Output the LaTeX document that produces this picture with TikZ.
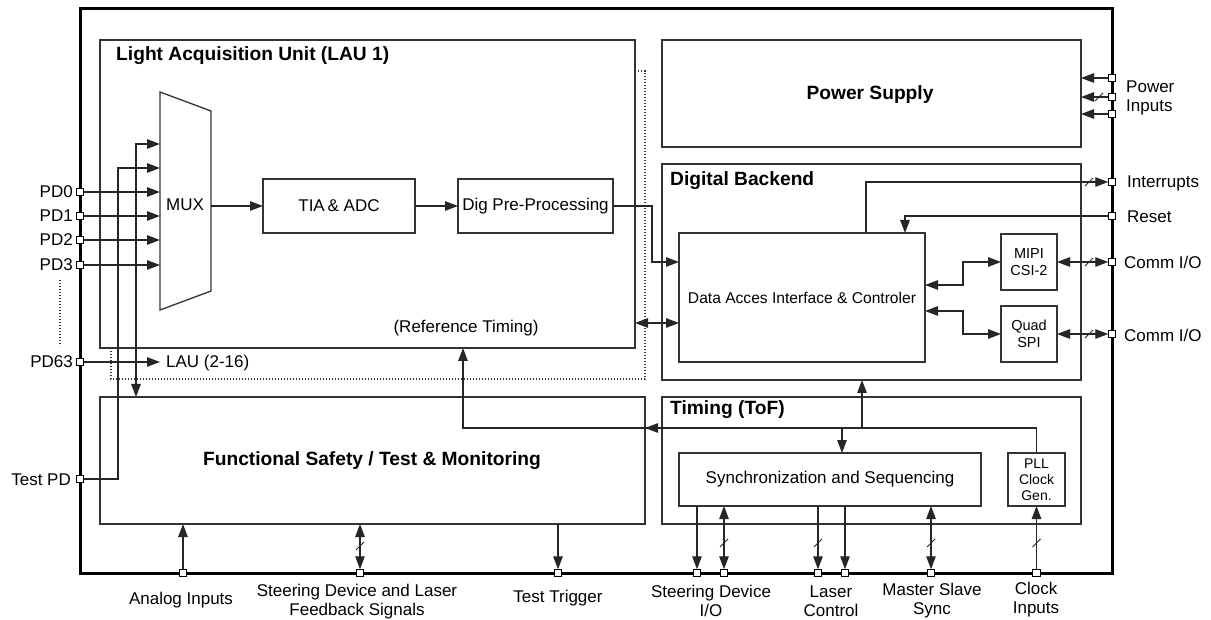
\documentclass[tikz,border=0pt]{standalone}
\usepackage{fontspec}
\setmainfont{Liberation Sans}
\usetikzlibrary{arrows.meta,calc}
\newcommand{\mkslash}[1]{\draw[conn,line width=0.8pt] ($(#1)+(-4,4)$) -- ($(#1)+(4,-4)$);}
\begin{document}
\begin{tikzpicture}[x=1pt,y=-1pt,
  box/.style={draw=black!80, line width=1.8pt, inner sep=0pt, outer sep=0pt, rectangle},
  ibox/.style={draw=black!80, line width=1.3pt, inner sep=0pt, outer sep=0pt, rectangle, align=center, font=\lab},
  conn/.style={line width=1.2pt, draw=black!85},
  arr/.style={conn, -{Triangle[length=13pt,width=9.5pt]}},
  darr/.style={conn, {Triangle[length=13pt,width=9.5pt]}-{Triangle[length=13pt,width=9.5pt]}},
  port/.style={draw=black, fill=white, line width=1pt, minimum size=7.5pt, inner sep=0pt, outer sep=0pt, rectangle},
  lbl/.style={inner sep=0pt, font=\lab, align=center},
  ttl/.style={inner sep=0pt, font=\ttlf},
  dots/.style={draw=black!80, line width=1.1pt, dash pattern=on 1.3pt off 1.7pt}
]
\newcommand{\lab}{\fontsize{17}{19}\selectfont}
\newcommand{\ttlf}{\fontsize{19.2}{22}\selectfont\bfseries}
\useasboundingbox (0,0) rectangle (1211,620);
\fill[white] (0,0) rectangle (1211,620);

% outer border
\node[draw=black, line width=3pt, minimum width=1032pt, minimum height=564pt, inner sep=0pt, outer sep=0pt] (outer) at (596,291) {};

% main blocks
\node[box, minimum width=535pt, minimum height=308pt] (lau) at (367.5,194) {};
\node[box, minimum width=545pt, minimum height=127pt] (fs) at (372.5,460.5) {};
\node[box, minimum width=419pt, minimum height=107pt] (ps) at (871.5,93.5) {};
\node[box, minimum width=419pt, minimum height=216pt] (db) at (871.5,272) {};
\node[box, minimum width=419pt, minimum height=127pt] (tof) at (871.5,460.5) {};

% dotted LAU stack
\draw[dots] (638,71) -- (645,71) -- (645,379) -- (111,379) -- (111,349);

% titles
\node[ttl, anchor=west] (laut) at (116,56) {Light Acquisition Unit (LAU 1)};
\node[ttl] (fst) at (372,461) {Functional Safety / Test \& Monitoring};
\node[ttl] (pst) at (870,95) {Power Supply};
\node[ttl, anchor=west] (dbt) at (670,181) {Digital Backend};
\node[ttl, anchor=west] (toft) at (670,410) {Timing (ToF)};

% inner boxes
\node[ibox, minimum width=152pt, minimum height=54pt] (tia) at (339,206) {TIA\,\& ADC};
\node[ibox, minimum width=155pt, minimum height=54pt] (dpp) at (535.5,206) {Dig Pre-Processing};
\node[ibox, minimum width=246pt, minimum height=129pt, font=\fontsize{15.6}{18}\selectfont] (daic) at (802,297.5) {Data Acces Interface \& Controler};
\node[ibox, minimum width=56pt, minimum height=56pt, font=\fontsize{14.5}{17}\selectfont] (mipi) at (1029,262) {MIPI\\CSI-2};
\node[ibox, minimum width=56pt, minimum height=56pt, font=\fontsize{14.5}{17}\selectfont] (qspi) at (1029,334) {Quad\\SPI};
\node[ibox, minimum width=302pt, minimum height=53pt] (sync) at (830,479.5) {Synchronization and Sequencing};
\node[ibox, minimum width=57pt, minimum height=53pt, font=\fontsize{14}{16}\selectfont] (pll) at (1036.5,479.5) {PLL\\Clock\\Gen.};

% MUX
\draw[draw=black!80, line width=1.3pt] (160,92) -- (211,111) -- (211,291) -- (160,310) -- cycle;
\node[lbl] (mux) at (185,205) {MUX};
\coordinate (muxl) at (160,200);
\coordinate (muxout) at (211,206);

% ports on the left
\node[port] (p0) at (80,192) {};
\node[port] (p1) at (80,216) {};
\node[port] (p2) at (80,240) {};
\node[port] (p3) at (80,265) {};
\node[port] (p63) at (80,362) {};
\node[port] (ptest) at (80,479) {};
\node[lbl, anchor=east] (l0) at (73,192) {PD0};
\node[lbl, anchor=east] (l1) at (73,216) {PD1};
\node[lbl, anchor=east] (l2) at (73,240) {PD2};
\node[lbl, anchor=east] (l3) at (73,265) {PD3};
\node[lbl, anchor=east] (l63) at (73,362) {PD63};
\node[lbl, anchor=east] (ltest) at (71,480) {Test PD};
\draw[dots] (60,280) -- (60,346);

\draw[arr] (p0.east) -- (muxl |- p0);
\draw[arr] (p1.east) -- (muxl |- p1);
\draw[arr] (p2.east) -- (muxl |- p2);
\draw[arr] (p3.east) -- (muxl |- p3);
\draw[arr] (p63.east) -- (muxl |- p63);
\node[lbl, anchor=west] (llau) at (166,363) {LAU (2-16)};
\draw[darr] (fs.north -| 136,0) -- (136,144) -- (muxl |- 0,144);
\draw[arr] (ptest.east) -- (118,479) -- (118,168) -- (muxl |- 0,168);

% LAU chain
\draw[arr] (muxout) -- (tia.west);
\draw[arr] (tia.east) -- (dpp.west);
\draw[arr] (dpp.east) -- (652,206) -- (652,262) -- (daic.west |- 0,262);
\draw[darr] (lau.east |- 0,323) -- (daic.west |- 0,323);
\node[lbl] (reft) at (466,328) {(Reference Timing)};

% right ports
\node[port] (pw1) at (1112,78) {};
\node[port] (pw2) at (1112,97) {};
\node[port] (pw3) at (1112,114) {};
\node[port] (pint) at (1112,182) {};
\node[port] (prst) at (1112,216) {};
\node[port] (pc1) at (1112,262) {};
\node[port] (pc2) at (1112,334) {};
\node[lbl, anchor=west, align=left] (lpw) at (1126,98) {Power\\Inputs};
\node[lbl, anchor=west] (lint) at (1127,183) {Interrupts};
\node[lbl, anchor=west] (lrst) at (1127,217) {Reset};
\node[lbl, anchor=west] (lc1) at (1124,262) {Comm I/O};
\node[lbl, anchor=west] (lc2) at (1124,335) {Comm I/O};

\draw[arr] (pw1.west) -- (ps.east |- pw1);
\draw[arr] (pw2.west) -- (ps.east |- pw2);
\draw[arr] (pw3.west) -- (ps.east |- pw3);
\mkslash{1099,97}
\draw[arr] (daic.north -| 866,0) -- (866,182) -- (pint.west);
\mkslash{1089,182}
\draw[arr] (prst.west) -- (905,216) -- (daic.north -| 905,0);
\draw[darr] (daic.east |- 0,285) -- (963,285) |- (mipi.west);
\draw[darr] (daic.east |- 0,311) -- (963,311) |- (qspi.west);
\draw[darr] (mipi.east) -- (pc1.west);
\draw[darr] (qspi.east) -- (pc2.west);
\mkslash{1089,262}
\mkslash{1089,334}

% timing network
\draw[arr] (pll.north) -- (pll.north |- 0,428) -- (463,428) -- (lau.south -| 463,0);
\draw[arr] (700,428) -- (fs.east |- 0,428);
\draw[arr] (862,428) -- (db.south -| 862,0);
\draw[arr] (842,428) -- (sync.north -| 842,0);

% bottom ports
\node[port] (pana) at (183,573) {};
\node[port] (pstr) at (360,573) {};
\node[port] (ptrg) at (558,573) {};
\node[port] (psd1) at (697,573) {};
\node[port] (psd2) at (724,573) {};
\node[port] (plc1) at (818,573) {};
\node[port] (plc2) at (845,573) {};
\node[port] (pms) at (931,573) {};
\node[port] (pclk) at (1036.5,573) {};

\draw[arr] (pana.north) -- (fs.south -| pana);
\draw[darr] (pstr.north) -- (fs.south -| pstr);
\mkslash{360,546}
\draw[arr] (fs.south -| ptrg) -- (ptrg.north);
\draw[arr] (sync.south -| psd1) -- (psd1.north);
\draw[darr] (psd2.north) -- (sync.south -| psd2);
\mkslash{724,543}
\draw[arr] (sync.south -| plc1) -- (plc1.north);
\mkslash{818,543}
\draw[arr] (sync.south -| plc2) -- (plc2.north);
\draw[darr] (pms.north) -- (sync.south -| pms);
\mkslash{931,543}
\draw[arr] (pclk.north) -- (pll.south);
\mkslash{1036.5,543}

% bottom labels
\node[lbl] (lana) at (181,600) {Analog Inputs};
\node[lbl] (lstr) at (357,602) {Steering Device and Laser\\Feedback Signals};
\node[lbl] (ltrg) at (558,598) {Test Trigger};
\node[lbl] (lsd) at (711,601) {Steering Device\\I/O};
\node[lbl] (llc) at (831,601) {Laser\\Control};
\node[lbl] (lms) at (932,601) {Master Slave\\Sync};
\node[lbl] (lclk) at (1036,600) {Clock\\Inputs};
\end{tikzpicture}
\end{document}
